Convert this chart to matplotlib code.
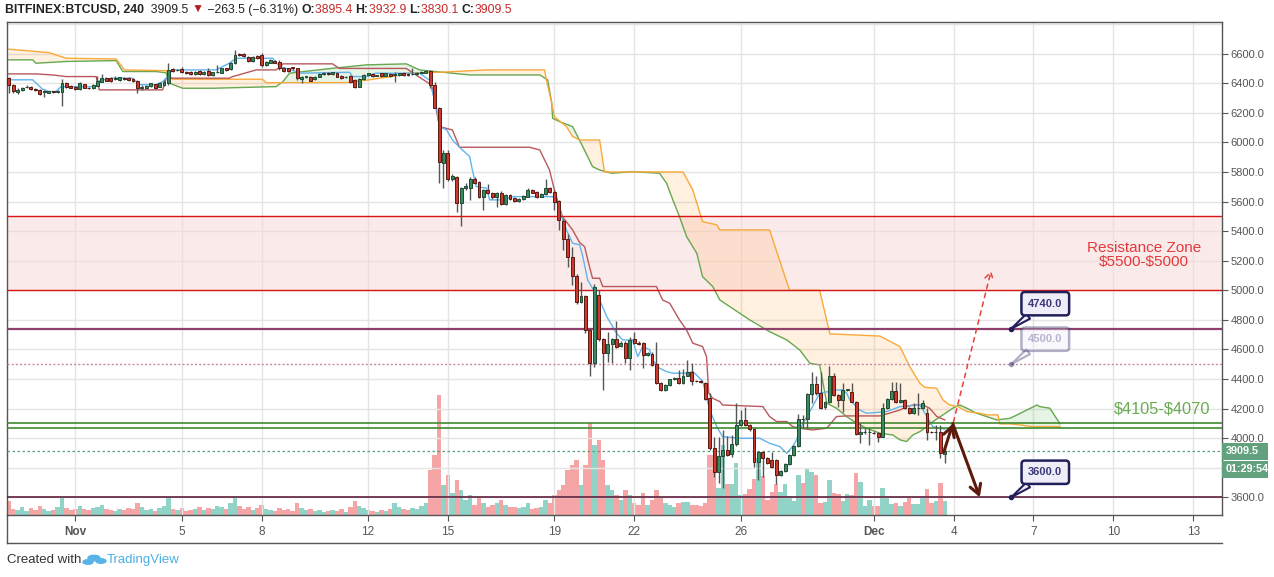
import numpy as np
import pandas as pd
import matplotlib
matplotlib.use("Agg")
import matplotlib.pyplot as plt
from matplotlib.patches import Rectangle, Circle

plt.rcParams['font.family'] = ['Liberation Sans', 'DejaVu Sans']

W, H = 1274, 577
start = pd.Timestamp("2018-10-29 12:00")   # first 4h bar on screen

# ---- OHLC, 4h bars ----
opens = [6434, 6388, 6341, 6355, 6372, 6377, 6360, 6356, 6339, 6337, 6344, 6343, 6343, 6400, 6382, 6377,
         6361, 6393, 6370, 6366, 6384, 6411, 6436, 6434, 6427, 6422, 6438, 6438, 6427, 6416, 6366, 6366,
         6382, 6393, 6377, 6388, 6400, 6497, 6488, 6497, 6479, 6479, 6463, 6483, 6463, 6485, 6456, 6474,
         6472, 6501, 6494, 6535, 6596, 6596, 6580, 6551, 6585, 6591, 6524, 6540, 6553, 6546, 6506, 6501,
         6506, 6501, 6427, 6445, 6441, 6427, 6445, 6461, 6470, 6461, 6470, 6450, 6440, 6450, 6422, 6377,
         6427, 6456, 6463, 6450, 6468, 6450, 6463, 6456, 6456, 6468, 6463, 6461, 6461, 6472, 6472, 6483,
         6388, 6235, 5863, 5926, 5750, 5768, 5593, 5690, 5694, 5753, 5730, 5633, 5678, 5656, 5629, 5660,
         5582, 5645, 5627, 5604, 5615, 5633, 5678, 5663, 5633, 5651, 5694, 5663, 5604, 5471, 5345, 5223,
         5097, 4923, 4962, 4732, 4511, 4968, 4669, 4574, 4637, 4671, 4623, 4646, 4545, 4669, 4646, 4642,
         4563, 4570, 4502, 4371, 4326, 4360, 4400, 4405, 4371, 4423, 4445, 4389, 4384, 4371, 4269, 3931,
         3774, 3882, 3920, 3890, 3958, 4089, 4123, 4089, 4060, 3837, 3904, 3864, 3852, 3853, 3751, 3778,
         3825, 3886, 3949, 4130, 4130, 4299, 4366, 4303, 4207, 4243, 4423, 4292, 4258, 4326, 4315, 4247,
         4026, 4040, 4040, 4035, 4033, 4010, 4202, 4263, 4319, 4242, 4258, 4206, 4168, 4202, 4202, 4173,
         4042, 4040, 4042, 3895.4]
highs = [6440, 6392, 6365, 6374, 6385, 6382, 6368, 6360, 6352, 6348, 6350, 6352, 6427, 6405, 6386, 6382,
         6411, 6398, 6376, 6393, 6449, 6460, 6445, 6440, 6449, 6445, 6443, 6442, 6432, 6422, 6388, 6390,
         6404, 6398, 6410, 6422, 6535, 6503, 6495, 6513, 6485, 6484, 6484, 6490, 6482, 6501, 6479, 6524,
         6506, 6506, 6545, 6625, 6602, 6601, 6585, 6585, 6590, 6602, 6551, 6563, 6560, 6556, 6512, 6506,
         6513, 6506, 6450, 6452, 6447, 6450, 6466, 6474, 6476, 6479, 6476, 6456, 6450, 6456, 6428, 6432,
         6461, 6472, 6470, 6458, 6472, 6472, 6468, 6479, 6472, 6474, 6468, 6501, 6478, 6483, 6492, 6490,
         6408, 6240, 5949, 5949, 5786, 5775, 5700, 5723, 5769, 5769, 5736, 5685, 5716, 5662, 5663, 5668,
         5652, 5650, 5632, 5623, 5645, 5694, 5684, 5668, 5656, 5753, 5700, 5680, 5610, 5480, 5380, 5290,
         5110, 5058, 4970, 4740, 5040, 5000, 4680, 4720, 4680, 4792, 4655, 4655, 4687, 4720, 4655, 4648,
         4585, 4580, 4648, 4380, 4368, 4402, 4412, 4461, 4466, 4529, 4506, 4395, 4390, 4380, 4303, 4010,
         4010, 4055, 4017, 4021, 4236, 4191, 4213, 4095, 4068, 3910, 3912, 3872, 3909, 3860, 3785, 3832,
         3892, 3955, 4163, 4157, 4303, 4450, 4420, 4450, 4252, 4488, 4438, 4298, 4371, 4332, 4371, 4252,
         4100, 4067, 4067, 4045, 4040, 4236, 4268, 4382, 4382, 4371, 4263, 4212, 4236, 4303, 4258, 4202,
         4048, 4089, 4089, 3932.9]
lows = [6332, 6337, 6330, 6350, 6366, 6355, 6350, 6322, 6310, 6332, 6336, 6334, 6246, 6370, 6366, 6355,
        6355, 6366, 6360, 6361, 6380, 6405, 6412, 6410, 6420, 6415, 6420, 6416, 6410, 6332, 6354, 6360,
        6376, 6364, 6372, 6382, 6388, 6478, 6482, 6468, 6462, 6455, 6458, 6456, 6458, 6450, 6450, 6470,
        6468, 6485, 6490, 6530, 6586, 6580, 6545, 6546, 6563, 6512, 6518, 6535, 6535, 6490, 6478, 6478,
        6490, 6425, 6400, 6438, 6412, 6420, 6440, 6456, 6455, 6456, 6440, 6430, 6434, 6400, 6366, 6372,
        6420, 6450, 6445, 6446, 6445, 6446, 6445, 6411, 6450, 6450, 6452, 6455, 6455, 6466, 6468, 6370,
        6230, 5723, 5690, 5740, 5740, 5532, 5437, 5680, 5611, 5720, 5625, 5543, 5650, 5620, 5566, 5575,
        5576, 5608, 5598, 5598, 5610, 5628, 5655, 5625, 5628, 5645, 5655, 5543, 5408, 5273, 5160, 5036,
        4910, 4915, 4709, 4421, 4480, 4660, 4326, 4518, 4511, 4612, 4615, 4511, 4461, 4636, 4630, 4473,
        4555, 4490, 4365, 4320, 4320, 4355, 4392, 4365, 4366, 4418, 4360, 4378, 4372, 4260, 3920, 3740,
        3695, 3661, 3880, 3870, 3950, 4080, 4085, 4050, 3807, 3717, 3740, 3825, 3798, 3688, 3745, 3772,
        3818, 3880, 3942, 4067, 4067, 4240, 4290, 4200, 4200, 4238, 4287, 4213, 4179, 4318, 4242, 4020,
        3965, 4030, 3954, 4025, 3977, 4005, 4196, 4258, 4236, 4236, 4196, 4163, 4163, 4157, 4197, 3988,
        4035, 3988, 3866, 3830.1]
closes = [6388, 6348, 6355, 6370, 6377, 6359, 6356, 6328, 6350, 6344, 6341, 6343, 6400, 6377, 6370, 6361,
          6400, 6370, 6366, 6388, 6416, 6438, 6418, 6416, 6434, 6440, 6427, 6422, 6416, 6366, 6377, 6384,
          6400, 6370, 6404, 6411, 6490, 6483, 6490, 6474, 6467, 6461, 6479, 6463, 6479, 6456, 6474, 6479,
          6501, 6490, 6540, 6591, 6591, 6585, 6551, 6580, 6569, 6524, 6546, 6558, 6540, 6501, 6483, 6483,
          6504, 6434, 6445, 6445, 6418, 6445, 6461, 6470, 6461, 6474, 6445, 6434, 6445, 6411, 6377, 6427,
          6456, 6468, 6450, 6452, 6450, 6468, 6450, 6456, 6468, 6456, 6458, 6461, 6472, 6479, 6486, 6389,
          6235, 5870, 5926, 5750, 5773, 5593, 5690, 5705, 5753, 5728, 5633, 5678, 5656, 5629, 5656, 5582,
          5645, 5615, 5604, 5618, 5638, 5678, 5660, 5633, 5651, 5694, 5663, 5600, 5476, 5345, 5223, 5097,
          4923, 4962, 4732, 4511, 5025, 4669, 4574, 4637, 4671, 4619, 4646, 4545, 4664, 4642, 4635, 4563,
          4574, 4495, 4371, 4326, 4360, 4398, 4405, 4371, 4423, 4445, 4389, 4384, 4378, 4265, 3931, 3774,
          3882, 3920, 3886, 3958, 4089, 4123, 4089, 4060, 3837, 3904, 3864, 3830, 3803, 3751, 3778, 3825,
          3886, 3949, 4130, 4128, 4299, 4366, 4303, 4202, 4247, 4423, 4292, 4258, 4326, 4326, 4247, 4026,
          4044, 4040, 4040, 4033, 4010, 4202, 4263, 4319, 4242, 4258, 4202, 4168, 4202, 4206, 4236, 4042,
          4040, 4042, 3898, 3909.5]
volumes = [14, 6, 5, 8, 4, 7, 5, 9, 6, 4, 5, 8, 18, 7, 5, 6, 9, 6, 5, 7, 8, 10, 6, 5, 4, 6, 5, 7, 6, 12,
           8, 5, 6, 4, 7, 9, 17, 6, 5, 7, 4, 5, 6, 8, 5, 7, 6, 9, 8, 6, 12, 18, 9, 6, 8, 5, 7, 10, 6, 5,
           4, 7, 5, 6, 4, 12, 7, 5, 6, 4, 5, 3, 4, 5, 4, 6, 3, 8, 14, 9, 7, 5, 4, 3, 5, 4, 6, 12, 8, 6,
           5, 7, 6, 9, 12, 45, 60, 120, 30, 40, 22, 35, 25, 15, 20, 10, 18, 12, 8, 10, 12, 15, 10, 8, 8, 7,
           8, 12, 6, 7, 8, 15, 12, 20, 25, 30, 45, 50, 55, 30, 50, 92, 70, 75, 55, 30, 25, 20, 15, 25, 20, 12,
           10, 22, 10, 15, 25, 18, 12, 10, 8, 12, 13, 13, 10, 10, 9, 12, 60, 60, 27, 70, 31, 31, 52, 20, 21, 26,
           36, 57, 39, 15, 23, 31, 23, 31, 19, 14, 40, 32, 46, 43, 40, 12, 13, 35, 22, 21, 14, 21, 20, 42, 33, 9,
           15, 9, 9, 27, 17, 11, 12, 9, 13, 17, 11, 11, 17, 26, 12, 14, 32, 14]

# ---- Ichimoku lines: (bar index, price) ----
tenkan_bar = [0, 5.4, 7.6, 9.1, 10.6, 11.8, 19.7, 20.4, 23.4, 27.9, 29.4, 33.2, 34.7, 35.8, 36.9, 46.7,
              49.7, 51.2, 59.5, 61.0, 64.8, 65.5, 76.8, 77.5, 80.6, 82.8, 92.6, 94.8, 96.4, 97.1, 98.7,
              100, 101.6, 103.9, 104.5, 105.4, 107.7, 108.4, 111.3, 113.6, 122.6, 123.5, 125.7, 127.1,
              128.7, 129.4, 130.5, 131.6, 133.2, 134.8, 137, 138.4, 140.6, 141.8, 142.9, 144.5, 145.1,
              146.7, 148.3, 149.7, 152.8, 154.2, 156.4, 158, 159.6, 160.9, 164.8, 169.3, 171.5, 173.8,
              175.4, 176.7, 177.6, 178.3, 179.9, 181.2, 182.8, 186.6, 188, 188.9, 189.6, 191.8, 193.4,
              197.9, 200.9, 205.4, 206.1, 208.3, 211]
tenkan_val = [6423, 6423, 6360, 6344, 6344, 6377, 6377, 6418, 6434, 6434, 6390, 6390, 6411, 6445, 6490, 6490,
              6535, 6569, 6569, 6513, 6479, 6468, 6474, 6445, 6445, 6468, 6467, 6422, 6242, 6107, 6084,
              6017, 5967, 5904, 5814, 5701, 5690, 5611, 5611, 5633, 5633, 5599, 5408, 5318,
              5307, 5228, 5070, 5013, 4934, 4822, 4709, 4664, 4664, 4551, 4619, 4597, 4529,
              4472, 4450, 4439, 4439, 4450, 4387, 4190, 4078, 4010, 3999, 3999, 3965, 3943,
              3897, 3943, 3988, 4055, 4145, 4213, 4303, 4326, 4326, 4303, 4258, 4190, 4168,
              4179, 4213, 4224, 4190, 4078, 4060]
kijun_bar = [0, 6.1, 9.9, 12.9, 19.7, 20.4, 34.7, 35.5, 49.7, 50.5, 55.8, 60.3, 61.8, 73, 74.5, 89.6,
             92.6, 95.3, 97.1, 100, 101.6, 117.4, 119.7, 121.9, 123, 124.8, 127.1, 128.7, 129.8, 130.9,
             131.6, 133.2, 133.9, 146, 147.4, 149, 151.2, 152.8, 154.2, 156.4, 157.3, 157.8, 158.7,
             160.3, 160.9, 170, 171.5, 173.1, 175.4, 176.7, 178.3, 181.2, 184.4, 186.6, 188.9, 196.4,
             197.9, 200.9, 202.4, 203.8, 206.1, 207.6, 209.2, 211]
kijun_val = [6463, 6463, 6456, 6445, 6445, 6355, 6355, 6434, 6434, 6445, 6490, 6490, 6531, 6531, 6500, 6500,
             6440, 6388, 6107, 6084, 5967, 5967, 5949, 5813, 5678, 5498, 5408, 5322, 5295, 5160,
             5081, 5081, 5025, 5025, 4934, 4912, 4799, 4731, 4642, 4619, 4551, 4303, 4269,
             4247, 4224, 4213, 4146, 4112, 4112, 4078, 4067, 4055, 4067, 4146, 4150, 4150,
             4163, 4190, 4213, 4224, 4224, 4202, 4146, 4123]
span_a_bar = [0, 5.4, 6.1, 12.9, 24.2, 25.7, 33.2, 35.5, 36.2, 39.2, 46, 60.3, 61.8, 63.3, 73, 80.6, 89.6,
              92.6, 103.9, 119.7, 121.5, 122.4, 122.6, 124.2, 127.1, 129.4, 131.6, 133.2, 135.9, 140.6,
              146.7, 148.3, 149.7, 151.2, 152.8, 155.1, 156.4, 158.7, 160.3, 167, 171.5, 175.4, 178.3,
              180.6, 182.8, 184.4, 186.6, 188.9, 191.2, 193.4, 196.4, 199.3, 200.9, 202.4, 203.8, 205.4,
              207, 208.3, 210.6, 212.8, 214.4, 216, 218.2, 220.5, 222.7, 225.7, 227.3, 229.5, 231.8,
              232.4, 234.7, 237]
span_a_val = [6558, 6558, 6535, 6547, 6553, 6479, 6479, 6470, 6400, 6366, 6366, 6377, 6411, 6468, 6501, 6524, 6531,
              6490, 6456, 6456, 6422, 6265, 6163, 6140, 6107, 5971, 5836, 5813, 5791, 5802,
              5791, 5723, 5611, 5498, 5363, 5250, 5092, 5025, 4934, 4800, 4720, 4664, 4596,
              4506, 4495, 4236, 4202, 4145, 4100, 4066, 4033, 4021, 3988, 3977, 4021, 4044,
              4078, 4111, 4157, 4202, 4224, 4202, 4168, 4145, 4123, 4134, 4157, 4190, 4224,
              4213, 4202, 4096]
span_b_bar = [0, 9.1, 12.9, 24.2, 26.1, 35.5, 36.9, 57.2, 58, 76.1, 80.6, 87.3, 90.3, 97.1, 107.7, 120.8,
              121.2, 122.4, 123, 125.7, 127.1, 128.7, 133.2, 134.3, 146.7, 152, 154.2, 156.4, 159.6,
              160.3, 171.5, 176, 182.8, 185.1, 196.4, 200.9, 203.1, 205.4, 206.5, 209.2, 210.6, 212.1,
              214, 216, 218.9, 220.5, 223, 223.4, 225.7, 227.9, 230.6, 237]
span_b_val = [6630, 6607, 6569, 6564, 6490, 6485, 6427, 6427, 6404, 6404, 6420, 6450, 6470, 6474, 6490, 6490,
              6422, 6265, 6174, 6107, 6040, 6016, 6016, 5800, 5800, 5800, 5678, 5464, 5442,
              5408, 5408, 5000, 5000, 4705, 4690, 4619, 4484, 4371, 4344, 4337, 4258, 4224,
              4213, 4179, 4168, 4157, 4157, 4096, 4096, 4089, 4078, 4078]

# ---- levels and drawings ----
resistance_zone = (5500, 5000)
support_zone = (4105, 4070)
level_4740 = 4740
level_4500 = 4500
level_3600 = 3600
last_price = 3909.5
countdown = "01:29:54"
callout_bar = 226
path_up = [(212.8, 4090), (221.6, 5150)]
path_down = [(210.8, 3907), (212.8, 4097), (218.9, 3600)]

tick_dates = ["2018-11-01", "2018-11-05", "2018-11-08", "2018-11-12", "2018-11-15", "2018-11-19",
              "2018-11-22", "2018-11-26", "2018-12-01", "2018-12-04", "2018-12-07", "2018-12-10",
              "2018-12-13"]
tick_labels = ["Nov", "5", "8", "12", "15", "19", "22", "26", "Dec", "4", "7", "10", "13"]
price_ticks = list(range(3600, 6601, 200))

# ---------------------------------------------------------------
o = np.array(opens, float); h = np.array(highs, float)
l = np.array(lows, float); c = np.array(closes, float)
v = np.array(volumes, float)
n = len(c)
idx = np.arange(n)
up = c >= o

fig = plt.figure(figsize=(W / 100, H / 100), dpi=100)
fig.patch.set_facecolor("white")


def fx(px):
    return px / W


def fy(py):
    return 1 - py / H


ax_l, ax_r, ax_t, ax_b = 7, 1222, 22, 515
ax = fig.add_axes([fx(ax_l), fy(ax_b), fx(ax_r - ax_l), (ax_b - ax_t) / H])
vax = ax.twinx()
vax.set_zorder(0)
ax.set_zorder(1)
ax.patch.set_visible(False)

xmin, xmax = -0.4, 273.5
ymin, ymax = 3480, 6814

# volume
vcol = np.where(up, "#92d3c8", "#f5a5a5")
vax.bar(idx, v, width=1.0, color=vcol, linewidth=0)
vax.set_ylim(0, v.max() * (ax_b - ax_t) / 120)
vax.set_yticks([])
for s in vax.spines.values():
    s.set_visible(False)

# grid
tick_pos = [(pd.Timestamp(d) - start) / pd.Timedelta(hours=4) for d in tick_dates]
for tp in tick_pos:
    ax.axvline(tp, color="#e4e4e4", lw=1, zorder=0)
for pv in range(3600, 6801, 200):
    ax.axhline(pv, color="#e4e4e4", lw=1, zorder=0)

# resistance zone
ax.axhspan(resistance_zone[1], resistance_zone[0], color="#f8d7d7", alpha=0.5, lw=0, zorder=0.5)
for pv in resistance_zone:
    ax.axhline(pv, color="#d81414", lw=1, zorder=3)

# cloud
grid = np.arange(0, 237.01, 0.25)
a_i = np.interp(grid, span_a_bar, span_a_val)
b_i = np.interp(grid, span_b_bar, span_b_val)
ax.fill_between(grid, a_i, b_i, where=a_i >= b_i, interpolate=True, color="#5cb85c", alpha=0.15, lw=0, zorder=1)
ax.fill_between(grid, a_i, b_i, where=a_i < b_i, interpolate=True, color="#ffa53a", alpha=0.16, lw=0, zorder=1)
ax.plot(span_a_bar, span_a_val, color="#66a84f", lw=1, zorder=2)
ax.plot(span_b_bar, span_b_val, color="#f9a93a", lw=1, zorder=2)
ax.plot(kijun_bar, kijun_val, color="#b8585c", lw=1, zorder=2)
ax.plot(tenkan_bar, tenkan_val, color="#62b4ee", lw=1, zorder=2)

# other levels
ax.axhline(level_4740, color="#8e3f6a", lw=1.6, zorder=3)
ax.axhline(level_4500, color="#c98ba3", lw=1, ls=(0, (1.5, 1.5)), zorder=3)
for pv in support_zone:
    ax.axhline(pv, color="#3f8a2e", lw=1.2, zorder=3)
ax.axhline(level_3600, color="#5e1f3c", lw=1.2, zorder=3)
ax.axhline(last_price, color="#5a9e7a", lw=0.9, ls=(0, (2, 2)), zorder=3)

# candles
wick_col = "#555555"
ax.vlines(idx, l, h, color=wick_col, lw=1, zorder=4)
body_lo = np.minimum(o, c)
body_h = np.maximum(np.abs(c - o), 4)
ax.bar(idx[up], body_h[up], bottom=body_lo[up], width=0.66, color="#3a8a5f", edgecolor="#1f4a33",
       linewidth=0.7, zorder=5)
ax.bar(idx[~up], body_h[~up], bottom=body_lo[~up], width=0.66, color="#cc3a2e", edgecolor="#5a1a12",
       linewidth=0.7, zorder=5)

# scenario arrows
ax.annotate("", xy=path_up[1], xytext=path_up[0],
            arrowprops=dict(arrowstyle="->,head_length=0.5,head_width=0.3", color="#e8403a", lw=1.1,
                            ls=(0, (3, 3))), zorder=6)
ax.annotate("", xy=path_down[1], xytext=path_down[0],
            arrowprops=dict(arrowstyle="->,head_length=0.7,head_width=0.4", color="#5a1a0c", lw=2.2,
                            shrinkA=0, shrinkB=0), zorder=6)
ax.annotate("", xy=path_down[2], xytext=path_down[1],
            arrowprops=dict(arrowstyle="->,head_length=0.7,head_width=0.4", color="#5a1a0c", lw=2.2,
                            shrinkA=0, shrinkB=0), zorder=6)

# callouts
for lvl, alpha in [(level_4740, 1.0), (level_4500, 0.35), (level_3600, 1.0)]:
    ax.annotate(f"{lvl:.1f}", xy=(callout_bar, lvl), xytext=(34, 25), textcoords="offset pixels",
                ha="center", va="center", fontsize=8, fontweight="bold", color="#3a3878", alpha=alpha,
                bbox=dict(boxstyle="round,pad=0.6,rounding_size=0.3", fc="#eeedf8", ec="#22205a", lw=1.8,
                          alpha=alpha),
                arrowprops=dict(arrowstyle="wedge,tail_width=0.55,shrink_factor=0.5", fc="#eeedf8",
                                ec="#22205a", lw=1.5, alpha=alpha, shrinkA=0, shrinkB=0), zorder=7)
    ax.plot(callout_bar, lvl, "o", ms=3, color="#22205a", alpha=alpha, zorder=8)

# labels
ax.text(255.9, 5238, "Resistance Zone\n\\$5500-\\$5000", color="#e5383b", fontsize=11, ha="center",
        va="center", linespacing=1.08, zorder=6)
ax.text(260.0, 4196, "\\$4105-\\$4070", color="#6aab52", fontsize=11.8, ha="center", va="center", zorder=6)

ax.set_xlim(xmin, xmax)
ax.set_ylim(ymin, ymax)
vax.set_xlim(xmin, xmax)

ax.yaxis.tick_right()
ax.set_yticks(price_ticks)
# the 3800 label sits under the price tags, as on the original
ax.set_yticklabels(["" if t == 3800 else f"{t:.1f}" for t in price_ticks])
ax.tick_params(axis="y", length=4, color="#555555", labelsize=8, labelcolor="#555555", pad=2)
ax.set_xticks(tick_pos)
ax.set_xticklabels(tick_labels)
for lab, txt in zip(ax.get_xticklabels(), tick_labels):
    if not txt.isdigit():
        lab.set_fontweight("bold")
ax.tick_params(axis="x", length=4, color="#555555", labelsize=8.5, labelcolor="#555555", pad=4)
for s in ax.spines.values():
    s.set_color("#555555")
    s.set_linewidth(1)

# price tag boxes on the right scale
tag_col = "#62a17d"
for ytop, txt in [(443, f"{last_price:.1f}"), (461, countdown)]:
    fig.add_artist(Rectangle((fx(1222), fy(ytop + 17)), fx(46), 17 / H, transform=fig.transFigure,
                             color=tag_col, lw=0, zorder=9))
    fig.text(fx(1226), fy(ytop + 8.5), txt, fontsize=7.8, fontweight="bold", color="white",
             va="center", ha="left", zorder=10)

# outer frame below the axis
fig.add_artist(plt.Line2D([fx(7), fx(7)], [fy(515), fy(543)], color="#555555", lw=1))
fig.add_artist(plt.Line2D([fx(7), fx(1222)], [fy(543), fy(543)], color="#555555", lw=1))

# header
fig.canvas.draw()
r = fig.canvas.get_renderer()
parts = [("BITFINEX:BTCUSD, 240", "#222222", "bold"), ("  3909.5 ", "#222222", "normal"),
         ("\u25bc", "#b71c1c", "normal"), (" \u2212263.5 (\u22126.31%) ", "#222222", "normal"),
         ("O:", "#222222", "bold"), ("3895.4 ", "#c62828", "normal"), ("H:", "#222222", "bold"),
         ("3932.9 ", "#c62828", "normal"), ("L:", "#222222", "bold"), ("3830.1 ", "#c62828", "normal"),
         ("C:", "#222222", "bold"), ("3909.5", "#c62828", "normal")]
xp = 5
for s, col, wt in parts:
    t = fig.text(fx(xp), fy(10), s, color=col, fontsize=8.8, fontweight=wt, va="center", ha="left",
                 family=["Liberation Sans", "DejaVu Sans"])
    bb = t.get_window_extent(r)
    xp = bb.x1

# footer
fig.text(fx(7), fy(560), "Created with", fontsize=9.5, color="#333333", va="center", ha="left")
logo_x = 94
for dx, dy, rr in [(-6, 2, 5), (0, -2, 6), (7, 1, 5)]:
    fig.add_artist(Circle((fx(logo_x + dx), fy(560 + dy)), rr / W, color="#5ab3e6",
                          transform=fig.transFigure))
fig.text(fx(107), fy(560), "TradingView", fontsize=9.5, color="#4aaee3", va="center", ha="left")

fig.savefig("out.png", dpi=100, facecolor="white")
